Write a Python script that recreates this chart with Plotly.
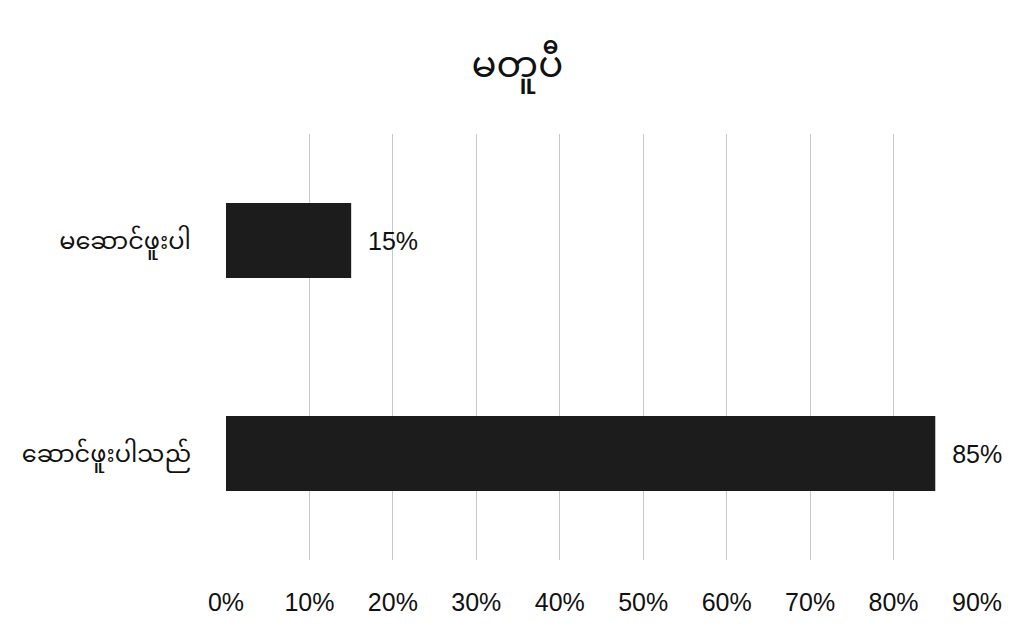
import plotly.graph_objects as go

title_text = "မတူပီ"
categories = ["ဆောင်ဖူးပါသည်", "မဆောင်ဖူးပါ"]
values = [0.85, 0.15]
value_labels = ["  85%", "  15%"]
tick_vals = [0, 0.1, 0.2, 0.3, 0.4, 0.5, 0.6, 0.7, 0.8, 0.9]

num_font = "Liberation Sans, Arial, Noto Sans Myanmar, sans-serif"
mm_font = "Noto Sans Myanmar, Padauk, DejaVu Sans, sans-serif"

fig = go.Figure()
fig.add_trace(go.Bar(
    y=categories,
    x=values,
    orientation="h",
    marker=dict(color="#1c1c1c", line=dict(width=0)),
    width=0.352,
    text=value_labels,
    textposition="outside",
    textfont=dict(size=25, color="#111", family=num_font),
    cliponaxis=False,
))

fig.update_layout(
    width=1027, height=641,
    margin=dict(l=218, r=58, t=126, b=89),
    paper_bgcolor="white", plot_bgcolor="white",
    showlegend=False,
    font=dict(family=num_font, color="#111"),
    title=dict(text=title_text, x=0.496, xref="container", xanchor="center",
               y=1 - 56 / 641, yref="container", yanchor="middle",
               font=dict(size=37, color="#111", family=mm_font)),
    xaxis=dict(range=[0, 0.9], tickvals=tick_vals, tickformat=".0%",
               showgrid=True, gridcolor="#c8c8c8", gridwidth=1,
               zeroline=False, showline=False,
               tickfont=dict(size=25, color="#111", family=num_font),
               ticklabelstandoff=25),
    yaxis=dict(showgrid=False, zeroline=False, showline=False,
               tickfont=dict(size=24, color="#111", family=mm_font),
               ticklabelstandoff=34),
)

fig.write_html("out.html")
